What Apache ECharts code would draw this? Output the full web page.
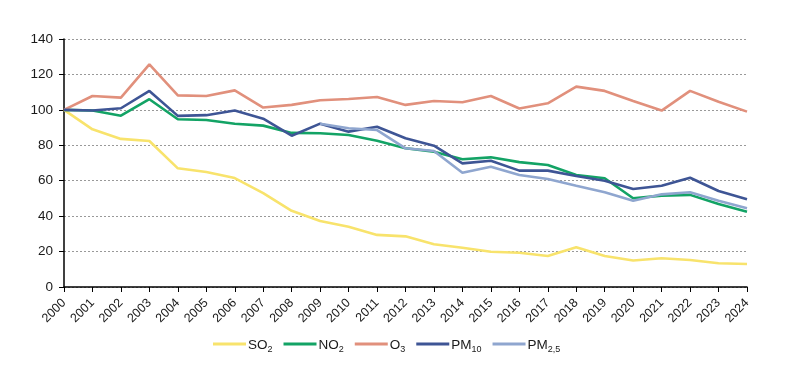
<!DOCTYPE html>
<html><head><meta charset="utf-8">
<script src="https://cdn.jsdelivr.net/npm/echarts@6/dist/echarts.min.js"></script>
<style>html,body{margin:0;padding:0;background:#fff}#c{width:787px;height:373px}</style>
</head><body><div id="c"></div>
<script>
const years = ['2000','2001','2002','2003','2004','2005','2006','2007','2008','2009','2010','2011','2012','2013','2014','2015','2016','2017','2018','2019','2020','2021','2022','2023','2024'];
const so2  = [100, 89, 83.6, 82.4, 67, 64.9, 61.5, 53, 43, 37.3, 34, 29.4, 28.6, 24.1, 22.2, 19.9, 19.3, 17.5, 22.4, 17.5, 15, 16.2, 15.2, 13.4, 13];
const no2  = [100, 99.6, 96.7, 106, 94.7, 94.3, 92.2, 91.1, 87, 86.8, 85.8, 82.6, 78.3, 76.4, 72.1, 73.2, 70.5, 68.9, 63.2, 61.4, 50.1, 51.6, 52, 46.9, 42.5];
const o3   = [100, 107.8, 106.9, 125.7, 108.2, 107.8, 111, 101.3, 102.8, 105.4, 106.1, 107.3, 102.8, 105, 104.3, 107.8, 100.8, 103.7, 113.1, 110.7, 105, 99.6, 110.7, 104.6, 99];
const pm10 = [100, 99.6, 100.9, 110.7, 96.6, 97, 99.6, 95, 85.4, 92.2, 87.7, 90.5, 84, 79.8, 69.8, 71.3, 65.7, 65.7, 62.7, 60, 55.3, 57.2, 61.7, 54.2, 49.5];
const pm25 = [null, null, null, null, null, null, null, null, null, 92.2, 89.6, 88.6, 78.3, 76.8, 64.5, 67.9, 63.2, 61, 57.2, 53.5, 48.7, 52.3, 53.5, 48.7, 44.4];
const yTicks = [0, 20, 40, 60, 80, 100, 120, 140];

const names = ['SO2','NO2','O3','PM10','PM2,5'];
const labels = {
  'SO2': '{a|SO}{s|2}', 'NO2': '{a|NO}{s|2}', 'O3': '{a|O}{s|3}',
  'PM10': '{a|PM}{s|10}', 'PM2,5': '{a|PM}{s|2,5}'
};
const colors = ['#F8E36C', '#13A365', '#E1907C', '#3E5595', '#8FA6CF'];
const datas = [so2, no2, o3, pm10, pm25];

const chart = echarts.init(document.getElementById('c'));
chart.setOption({
  animation: false,
  grid: { left: 64, right: 40, top: 39, bottom: 86, containLabel: false },
  legend: {
    bottom: 14, left: 208,
    icon: 'rect', itemWidth: 33, itemHeight: 3, itemGap: 11,
    data: names,
    formatter: n => labels[n],
    textStyle: {
      padding: [0,0,0,-3],
      rich: {
        a: { fontFamily: 'Liberation Sans, Arial', fontSize: 13.5, color: '#1a1a1a', lineHeight: 16, verticalAlign: 'bottom' },
        s: { fontFamily: 'Liberation Sans, Arial', fontSize: 9, color: '#1a1a1a', lineHeight: 12, verticalAlign: 'bottom', padding: [0,0,-2,0] }
      }
    }
  },
  xAxis: {
    type: 'category', data: years, boundaryGap: false,
    axisLine: { lineStyle: { color: '#000', width: 1.5 } },
    axisTick: { show: true, length: 5, lineStyle: { color: '#000' } },
    axisLabel: { rotate: 45, fontFamily: 'Liberation Sans, Arial', fontSize: 12.5, color: '#1a1a1a', margin: 14, interval: 0 },
    splitLine: { show: false }
  },
  yAxis: {
    type: 'value', min: 0, max: 140, interval: 20,
    axisLine: { show: true, lineStyle: { color: '#000', width: 1.5 } },
    axisTick: { show: true, length: 5, lineStyle: { color: '#000' } },
    axisLabel: { fontFamily: 'Liberation Sans, Arial', fontSize: 13.5, color: '#1a1a1a', margin: 11,
      formatter: v => yTicks.includes(v) ? String(v) : '' },
    splitLine: { show: true, lineStyle: { color: '#999', type: [2, 2], width: 1 } }
  },
  series: names.map((n, i) => ({
    name: n, type: 'line', data: datas[i], symbol: 'none',
    connectNulls: false,
    lineStyle: { color: colors[i], width: 2.6 },
    itemStyle: { color: colors[i] }
  }))
});
</script></body></html>
